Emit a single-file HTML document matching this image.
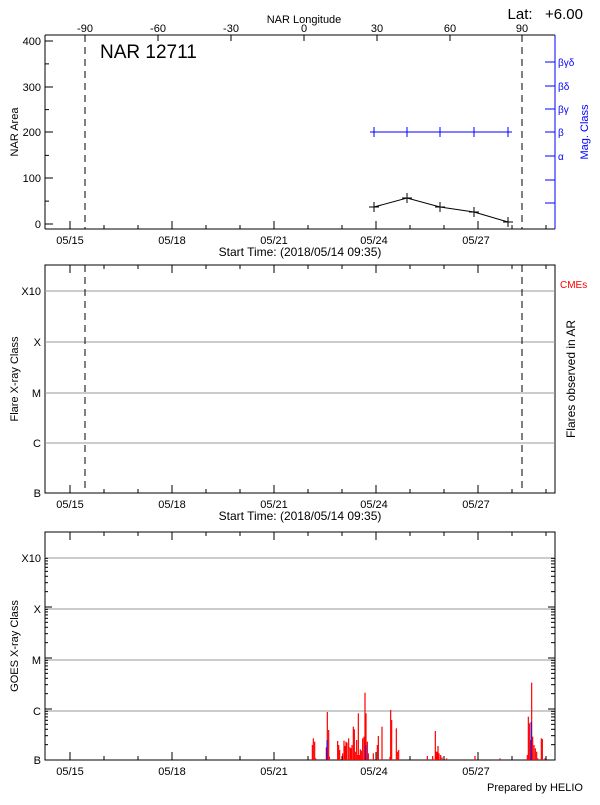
<!DOCTYPE html>
<html><head><meta charset="utf-8"><style>
body{margin:0;background:#fff;width:600px;height:800px;overflow:hidden}
svg text{font-family:"Liberation Sans",sans-serif;font-size:11px}
</style></head><body>
<svg id="s" width="600" height="800" xmlns="http://www.w3.org/2000/svg">
<rect width="600" height="800" fill="#fff"/>
<g id="g"></g>
</svg>
<script>
const g=document.getElementById('g');let h='';
function L(x1,y1,x2,y2,c,w,d){h+=`<line x1="${x1}" y1="${y1}" x2="${x2}" y2="${y2}" stroke="${c||'#000'}" stroke-width="${w||1}" ${d?`stroke-dasharray="${d}"`:''}/>`;}
function T(x,y,t,a,c,s,r){h+=`<text x="${x}" y="${y}" text-anchor="${a||'middle'}" fill="${c||'#000'}" ${s?`style="font-size:${s}px"`:''} ${r?`transform="rotate(${r} ${x} ${y})"`:''}>${t}</text>`;}
const X0=45,X1=555;
const days=[70,172,274,374,476],dl=['05/15','05/18','05/21','05/24','05/27'];
function xaxis(yb,yt,lab,top){
 for(let i=0;i<16;i++){let x=70+34*i-34;if(x<X0||x>X1)continue;let maj=(i-1)%3==0;L(x,yb,x,yb-(maj?8:4));if(top!==false)L(x,yt,x,yt+(maj?8:4));}
 dl.forEach((t,i)=>T(days[i],yb+15,t));
 if(lab)T(300,yb+27,'Start Time: (2018/05/14 09:35)','middle','#000',12);
}
// Panel 1
const t1=35,b1=229;
L(X0,t1,X0,b1);L(X0,b1,X1,b1);L(X0,t1,X1,t1);
L(X1,t1,X1,b1,'#00f');
xaxis(b1,t1,true,false);
[[400,41],[300,87],[200,132],[100,178],[0,224]].forEach(([v,y])=>{L(X0,y,X0+8,y);T(X0-4,y+4,v,'end');});
for(let v=50;v<400;v+=100){let y=224-v*0.4575;L(X0,y,X0+4,y);}
T(18,132,'NAR Area','middle','#000',11,-90);
[[-90,85],[-60,158],[-30,231],[0,304],[30,377],[60,450],[90,522]].forEach(([v,x])=>{T(x,32,v);L(x,t1,x,t1+6);});
T(304,23,'NAR Longitude');
T(583,19,'Lat:&#160;&#160;&#160;+6.00','end','#000',15);
T(100,58,'NAR 12711','start','#000',19);
L(85,t1,85,b1,'#000',1,'7,5');L(522,t1,522,b1,'#000',1,'7,5');
const mc=[['βγδ',62],['βδ',86],['βγ',109],['β',132],['α',156],['',180],['',203]];
mc.forEach(([t,y])=>{L(545,y,X1,y,'#00f');if(t)T(558,y+4,t,'start','#00f',10);});
T(588,132,'Mag. Class','middle','#00f',11,-90);
L(374,132,508,132,'#00f');
[374,407,440,474,508].forEach(x=>{L(x,127,x,137,'#00f');L(x-4,132,x+4,132,'#00f');});
const ar=[[374,207],[407,198],[440,207],[474,212],[508,222]];
h+=`<polyline points="${ar.map(p=>p.join(',')).join(' ')}" fill="none" stroke="#000"/>`;
ar.forEach(([x,y])=>{L(x-5,y,x+5,y);L(x,y-5,x,y+5);});
// Panel 2
const t2=265,b2=493;
h+=`<rect x="${X0}" y="${t2}" width="${X1-X0}" height="${b2-t2}" fill="none" stroke="#000"/>`;
xaxis(b2,t2,true);
[['X10',291],['X',342],['M',393],['C',443],['B',493]].forEach(([t,y])=>{if(y<b2)L(X0,y,X1,y,'#999');T(X0-4,y+4,t,'end');});
T(18,379,'Flare X-ray Class','middle','#000',11,-90);
T(575,379,'Flares observed in AR','middle','#000',12,-90);
T(560,288,'CMEs','start','#f00',10);
L(85,t2,85,b2,'#000',1,'7,5');L(522,t2,522,b2,'#000',1,'7,5');
// Panel 3
const t3=532,b3=760;
h+=`<rect x="${X0}" y="${t3}" width="${X1-X0}" height="${b3-t3}" fill="none" stroke="#000"/>`;
[['X10',558],['X',609],['M',660],['C',711],['B',760]].forEach(([t,y])=>{if(y<b3)L(X0,y,X1,y,'#999');T(X0-4,y+4,t,'end');});
for(let d=0;d<4;d++){let base=760-51*d;for(let k=2;k<10;k++){let y=base-51*Math.log10(k);if(y>t3){L(X0,y,X0+3,y);L(X1,y,X1-4,y);}}L(X0,base,X0+7,base);L(X1,base,X1-7,base);}
T(18,646,'GOES X-ray Class','middle','#000',11,-90);
const sp=[67,225,70,205,74,215,77,265,109,232,112,126,116,180,118,260,143,213,146,225,149,240,158,250,162,212,165,228,168,215,171,218,176,205,180,232,183,235,186,225,190,170,193,178,196,245,200,210,203,255,205,130,208,255,211,238,214,242,218,205,222,200,225,68,228,130,232,215,235,250,250,250,262,225,265,198,276,170,300,260,302,120,305,150,319,175,322,245,326,240,412,258,428,258,432,268,436,183,438,245,441,245,444,228,447,250,452,255,456,262,470,265,555,258,630,265,703,270,712,255,715,140,718,160,722,210,725,38,728,200,732,225,736,235,740,245,743,265,754,205,757,207,765,265];
for(let i=0;i<sp.length;i+=2){let x=290+sp[i]/3,y=670+sp[i+1]/3;L(x,b3,x,y,'#f00',1.2);}
L(327,760,327,740,'#00f');L(366,760,366,745,'#00f');L(531,760,531,722,'#00f');
xaxis(b3,t3,false);
T(583,791,'Prepared by HELIO','end','#000',11);
g.innerHTML=h;
</script>
</body></html>
